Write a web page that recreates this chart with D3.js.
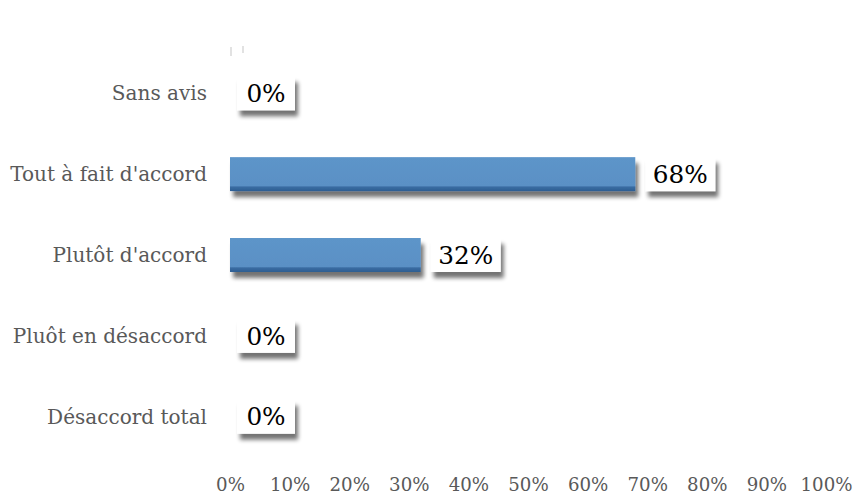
<!DOCTYPE html>
<html><head><meta charset="utf-8">
<script src="https://cdn.jsdelivr.net/npm/d3@7"></script>
<style>body{margin:0;background:#fff}svg{display:block}</style>
</head><body>
<script>
const categories = ["Sans avis","Tout à fait d'accord","Plutôt d'accord","Pluôt en désaccord","Désaccord total"];
const values = [0, 0.68, 0.32, 0, 0];
const valueLabels = ["0%","68%","32%","0%","0%"];
const tickValues = [0,0.1,0.2,0.3,0.4,0.5,0.6,0.7,0.8,0.9,1];

const W=856,H=501;
const svg=d3.select("body").append("svg").attr("width",W).attr("height",H);
const defs=svg.append("defs");
const f=defs.append("filter").attr("id","sh").attr("x","-20%").attr("y","-20%").attr("width","150%").attr("height","170%");
f.append("feGaussianBlur").attr("in","SourceAlpha").attr("stdDeviation",2.2);
f.append("feOffset").attr("dx",3).attr("dy",6).attr("result","b");
f.append("feComponentTransfer").append("feFuncA").attr("type","linear").attr("slope",0.55);
const m=f.append("feMerge");m.append("feMergeNode");m.append("feMergeNode").attr("in","SourceGraphic");
const g=defs.append("linearGradient").attr("id","bg").attr("x1",0).attr("y1",0).attr("x2",0).attr("y2",1);
g.append("stop").attr("offset","0%").attr("stop-color","#5d95c9");
g.append("stop").attr("offset","84%").attr("stop-color","#5a90c5");
g.append("stop").attr("offset","88%").attr("stop-color","#3a6ca2");
g.append("stop").attr("offset","100%").attr("stop-color","#2d5d92");

const x=d3.scaleLinear().domain([0,1]).range([230,826]);
const y=d3.scaleBand().domain(categories).range([52,458]).paddingInner(0.58).paddingOuter(0.3);

const font="'DejaVu Serif', 'Liberation Serif', serif";
function fit(str, target, base){
  const t=svg.append("text").attr("font-family",font).attr("font-size",base).text(str);
  const w=t.node().getComputedTextLength(); t.remove();
  return base*target/w;
}
const catSize=fit("Tout à fait d'accord",197,20);
const axSize=fit("100%",52,20);
const valSize=fit("68%",55,22);

// small top marks
svg.append("line").attr("x1",231).attr("x2",231).attr("y1",47).attr("y2",56).attr("stroke","#d8d8d8").attr("stroke-width",1.5);
svg.append("line").attr("x1",243).attr("x2",243).attr("y1",46).attr("y2",53).attr("stroke","#d8d8d8").attr("stroke-width",1.5);

// axis
const ax=svg.append("g").attr("transform","translate(0,478)")
 .call(d3.axisBottom(x).tickValues(tickValues).tickFormat(d3.format(".0%")).tickSize(0).tickPadding(0));
ax.select(".domain").remove();
ax.selectAll("text").attr("font-family",font).attr("font-size",axSize).attr("fill","#595959").attr("dy","0.71em");

// category labels
svg.append("g").selectAll("text").data(categories).join("text")
 .attr("x",207).attr("y",d=>y(d)+y.bandwidth()/2).attr("dy","0.35em")
 .attr("text-anchor","end").attr("font-family",font).attr("font-size",catSize).attr("fill","#595959").text(d=>d);

// bars
svg.append("g").selectAll("rect").data(values).join("rect")
 .attr("x",x(0)).attr("y",(d,i)=>y(categories[i])).attr("height",y.bandwidth())
 .attr("width",d=>x(d)-x(0)).attr("fill","url(#bg)").attr("filter",d=>d>0?"url(#sh)":null);

// value label boxes
const lab=svg.append("g").selectAll("g").data(values).join("g")
 .attr("transform",(d,i)=>`translate(${x(d)+(d>0?10:7)},${y(categories[i])+y.bandwidth()/2})`);
lab.append("rect").attr("x",0).attr("y",-17).attr("height",34)
 .attr("width",(d,i)=>valueLabels[i].length===2?58:70).attr("fill","#fff").attr("filter","url(#sh)");
lab.append("text").attr("x",(d,i)=>(valueLabels[i].length===2?58:70)/2).attr("dy","0.35em")
 .attr("text-anchor","middle").attr("font-family",font).attr("font-size",valSize).attr("fill","#000")
 .text((d,i)=>valueLabels[i]);
</script>
</body></html>
